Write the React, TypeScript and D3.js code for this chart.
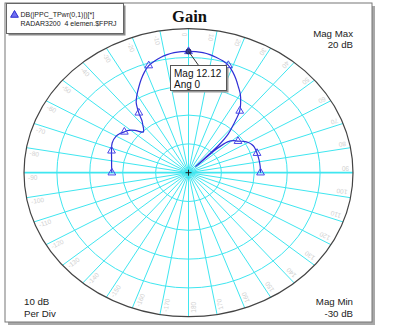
import React from "react";
import * as d3 from "d3";

// gain pattern (angle in degrees, clockwise from top)
const angles = [
  -90, -84, -78, -72, -66, -60, -57, -54, -51, -48, -45, -44, -42, -40, -38, -36,
  -33, -30, -27, -24, -21, -18, -15, -12, -9, -6, -3, 0, 3, 6, 9, 12, 15, 18, 21,
  24, 27, 30, 33, 36, 39, 42, 44, 45, 46, 48, 51, 54, 57, 60, 63, 66, 72, 78, 84, 90,
];
const gainDb = [
  -6.7, -6.5, -6.1, -5.4, -4.6, -4.6, -5.1, -5.9, -6.6, -8.0, -10.1, -10.3, -9.6, -8.4, -7.0, -4.3,
  -0.8, 1.3, 3.3, 5.4, 7.4, 9.1, 10.1, 10.9, 11.5, 11.9, 12.1, 12.12, 12.1, 11.9, 11.5, 10.9, 10.2, 9.2, 7.5,
  5.5, 3.4, 1.5, -0.9, -3.5, -8.0, -12.0, -17.0, -27.0, -18.0, -14.0, -12.3, -11.4, -10.0, -9.0, -8.4, -8.1, -8.1, -8.1, -8.1, -8.1,
];
const markerStep = 18;
const ringDb = [-20, -10, 0, 10];
const magMin = -30;
const magMax = 20;
const spokeAngles = d3.range(-170, 190, 10);
const legendLines = ["DB(|PPC_TPwr(0,1)|)[*]", "RADAR3200  4 elemen.$FPRJ"];
const markerLabel = ["Mag 12.12", "Ang 0"];

const W = 394, H = 326;
const cx = 188.5, cy = 172.7, rx = 164.5, ry = 144;

export default function App() {
  const rScale = d3.scaleLinear().domain([magMin, magMax]).range([0, 1]);
  const toRad = d3.scaleLinear().domain([0, 180]).range([0, Math.PI]);
  const px = (a: number, db: number) => cx + rx * rScale(db) * Math.sin(toRad(a));
  const py = (a: number, db: number) => cy - ry * rScale(db) * Math.cos(toRad(a));

  const pts = angles.map((a, i) => [px(a, gainDb[i]), py(a, gainDb[i])] as [number, number]);
  const path = d3.line().curve(d3.curveCatmullRom.alpha(0.5))(pts) || "";
  const tri = d3.symbol().type(d3.symbolTriangle).size(26)() || "";
  const grid = "#3fe6f0";
  const font = "Liberation Sans, Arial, sans-serif";

  const top = angles.indexOf(0);
  const tx = px(0, gainDb[top]), ty = py(0, gainDb[top]);

  return (
    <svg width={W} height={H} style={{ position: "absolute", left: 0, top: 0 }}>
      <rect x={0} y={0} width={W} height={H} fill="#fff" />
      {/* frame + shadow */}
      <rect x={8} y={6} width={367} height={319} fill="#a8a8a8" />
      <rect x={5} y={3} width={367} height={319} fill="#fff" stroke="#777" strokeWidth={1} />

      {/* rings */}
      {ringDb.map(d => (
        <ellipse key={d} cx={cx} cy={cy} rx={rx * rScale(d)} ry={ry * rScale(d)} fill="none" stroke={grid} strokeWidth={1} />
      ))}
      {/* spokes */}
      {spokeAngles.map(a => (
        <line key={a} x1={cx} y1={cy} x2={px(a, magMax)} y2={py(a, magMax)} stroke={grid}
          strokeWidth={Math.abs(a) === 90 ? 1.7 : 1} />
      ))}
      <ellipse cx={cx} cy={cy} rx={rx} ry={ry} fill="none" stroke="#444" strokeWidth={1.2} />

      {/* angle labels */}
      {spokeAngles.map(a => {
        const t = toRad(a);
        const x = cx + (rx - 4) * Math.sin(t);
        const y = cy - (ry - 4) * Math.cos(t);
        const phi = (Math.atan2(ry * Math.cos(t), -rx * Math.sin(t)) * 180) / Math.PI;
        return (
          <text key={a} transform={`translate(${x},${y}) rotate(${phi})`} y={7} fontSize={6.5}
            fontFamily={font} fill="#d0d0d0">{a}</text>
        );
      })}

      {/* center cross */}
      <line x1={cx - 3} x2={cx + 3} y1={cy} y2={cy} stroke="#222" strokeWidth={1} />
      <line x1={cx} x2={cx} y1={cy - 3} y2={cy + 3} stroke="#222" strokeWidth={1} />

      {/* trace */}
      <path d={path} fill="none" stroke="#2f2fd6" strokeWidth={1.2} />
      {angles.map((a, i) => a % markerStep === 0 ? (
        <path key={a} d={tri} transform={`translate(${pts[i][0]},${pts[i][1]})`} fill="none" stroke="#4848e8" strokeWidth={1} />
      ) : null)}
      <circle cx={tx} cy={ty} r={2.6} fill="#3a3a9a" stroke="#1c1c60" strokeWidth={0.8} />

      {/* marker readout */}
      <line x1={tx} y1={ty} x2={199} y2={66} stroke="#333" strokeWidth={1} />
      <rect x={172.5} y={67.5} width={56} height={25} fill="#999" />
      <rect x={170.5} y={65.5} width={56} height={25} fill="#fff" stroke="#555" strokeWidth={1} />
      <text x={174} y={76.5} fontSize={10} fontFamily={font} fill="#111">{markerLabel[0]}</text>
      <text x={174} y={87.5} fontSize={10} fontFamily={font} fill="#111">{markerLabel[1]}</text>

      {/* legend */}
      <rect x={8.5} y={5.5} width={117} height={30} fill="#888" />
      <rect x={6.5} y={3.5} width={117} height={30} fill="#fff" stroke="#666" strokeWidth={1} />
      <path d={tri} transform="translate(14.5,15)" fill="#7070f0" stroke="#2a2ad0" strokeWidth={1} />
      <text x={20.5} y={17} fontSize={7} fontFamily={font} fill="#222">{legendLines[0]}</text>
      <text x={20.5} y={25.5} fontSize={7} fontFamily={font} fill="#222" style={{ whiteSpace: "pre" }}>{legendLines[1]}</text>

      {/* title */}
      <text x={189.5} y={22} textAnchor="middle" fontSize={16.5} fontWeight="bold"
        fontFamily="Liberation Serif, Times New Roman, serif" fill="#111">Gain</text>

      {/* corner notes */}
      <g fontSize={9.7} fontFamily={font} fill="#222">
        <text x={353} y={37} textAnchor="end">Mag Max</text>
        <text x={353} y={48} textAnchor="end">{`${magMax} dB`}</text>
        <text x={353} y={305} textAnchor="end">Mag Min</text>
        <text x={353} y={317} textAnchor="end">{`${magMin} dB`}</text>
        <text x={24} y={305}>10 dB</text>
        <text x={24} y={317}>Per Div</text>
      </g>
    </svg>
  );
}
